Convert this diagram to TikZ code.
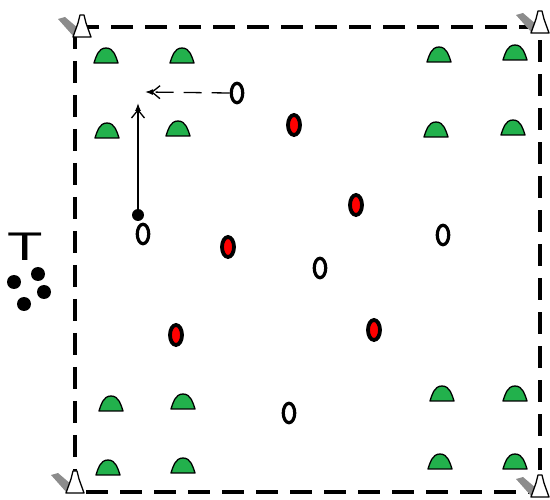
\documentclass[tikz,border=0pt]{standalone}
\usepackage{fontspec}
\setmainfont{Liberation Sans}
\usetikzlibrary{shapes.geometric,arrows.meta}
\definecolor{conegreen}{RGB}{34,177,76}
\definecolor{shadowgray}{RGB}{140,140,140}
\tikzset{
 redp/.style={ellipse, draw=black, fill=red, line width=3.8pt, minimum width=12pt, minimum height=20pt, inner sep=0pt},
 whitep/.style={ellipse, draw=black, fill=white, line width=3.2pt, minimum width=11.5pt, minimum height=19.5pt, inner sep=0pt},
 ball/.style={circle, fill=black, minimum size=14pt, inner sep=0pt},
 dotp/.style={circle, fill=black, minimum size=12pt, inner sep=0pt},
 mvtip/.style={-{Straight Barb[length=8pt,width=13pt,sep=-2pt]Latex[length=8pt,width=6pt]}},
 border/.style={line width=4.5pt, dash pattern=on 22pt off 12pt},
 gcone/.pic={\draw[fill=conegreen, line width=1.3pt, line join=round] (-12,0) .. controls (-10,-6) and (-8,-15) .. (0,-15) .. controls (8,-15) and (10,-6) .. (12,0) -- cycle;},
 wcone/.pic={\fill[shadowgray] (-8,0) -- (-24,-18) -- (-17,-20) -- (-3,-8) -- cycle;
   \draw[fill=white, line width=1.3pt, line join=round] (-9,0) -- (-4,-14) -- (-2,-22) -- (2,-22) -- (4,-14) -- (9,0) -- cycle;},
}
\begin{document}
\begin{tikzpicture}[x=1pt,y=-1pt]
\useasboundingbox (0,0) rectangle (550,500);
% field
\draw[border] (75,27) rectangle (540,492);
% corner cones
\pic at (82,37) {wcone};
\pic at (540,33) {wcone};
\pic at (75,493) {wcone};
\pic at (540,497) {wcone};
% green cones
\foreach \x/\y in {106/63, 182/63, 439/62, 515/60,
                   107/138, 178/136, 436/137, 513/135,
                   111/411, 183/409, 442/401, 515/401,
                   108/475, 183/473, 440/469, 515/469}
  \pic at (\x,\y) {gcone};
% red players
\node[redp] (r1) at (294,125) {};
\node[redp] (r2) at (356,205) {};
\node[redp] (r3) at (228,247) {};
\node[redp] (r4) at (374,330) {};
\node[redp] (r5) at (176,335) {};
% white players
\node[whitep] (w1) at (237,93) {};
\node[whitep] (w2) at (143,234) {};
\node[whitep] (w3) at (443,235) {};
\node[whitep] (w4) at (320,268) {};
\node[whitep] (w5) at (289,413) {};
% ball carrier dot
\node[dotp] (dot) at (138,215) {};
% movement arrows
\coordinate (a1end) at (145,92);
\coordinate (a2end) at (138,103);
\draw[mvtip, line width=1.3pt, dash pattern=on 18pt off 10pt] (w1.west) -- (a1end);
\draw[mvtip, line width=1.3pt] (dot) -- (a2end);
% T and balls
\node[inner sep=0pt] (T) at (25,247) {\fontsize{40}{40}\selectfont\scalebox{1.45}[1]{T}};
\node[ball] (b1) at (14,282) {};
\node[ball] (b2) at (38,274) {};
\node[ball] (b3) at (44,292) {};
\node[ball] (b4) at (24,304) {};
\end{tikzpicture}
\end{document}
